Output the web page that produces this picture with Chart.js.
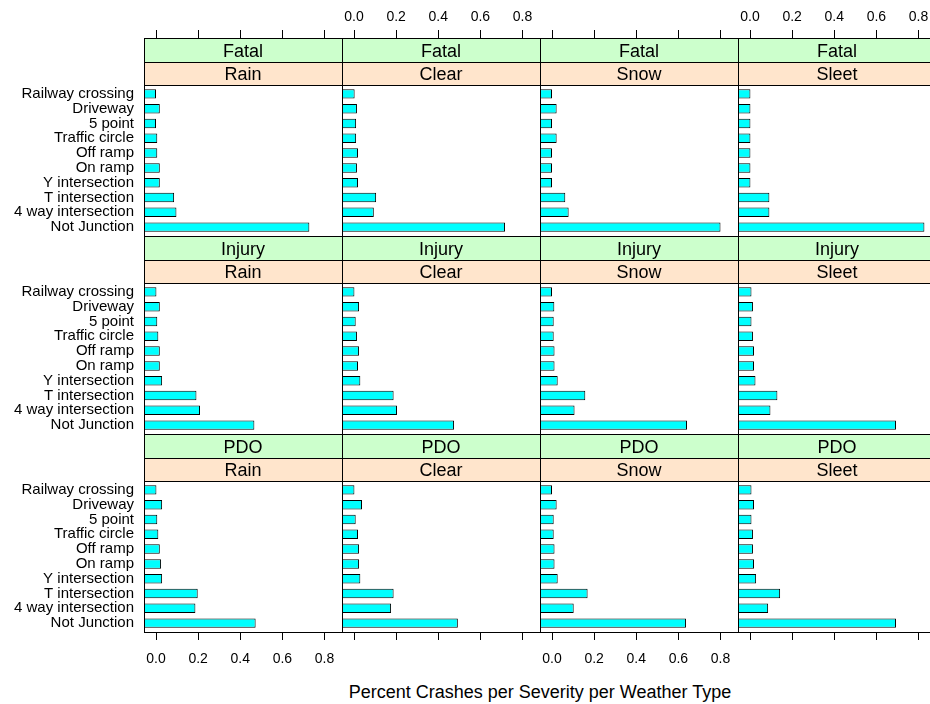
<!DOCTYPE html>
<html lang="en">
<head>
<meta charset="UTF-8" />
<title>Percent Crashes per Severity per Weather Type</title>
<style>
  html, body { margin: 0; padding: 0; background: #fff; overflow: hidden; }
  body { width: 930px; height: 704px; position: relative; font-family: "Liberation Sans", Arial, sans-serif; }
  canvas { position: absolute; }
  #xlab { position: absolute; left: 144px; width: 792px; top: 680px; height: 24px; line-height: 24px;
          text-align: center; font-size: 18px; color: #000; }
</style>
</head>
<body>
<div id="xlab">Percent Crashes per Severity per Weather Type</div>
<script src="https://cdn.jsdelivr.net/npm/chart.js@4.4.0/dist/chart.umd.min.js"></script>
<script>
// categories, top of panel to bottom
const junctions = ["Railway crossing", "Driveway", "5 point", "Traffic circle", "Off ramp",
  "On ramp", "Y intersection", "T intersection", "4 way intersection", "Not Junction"];
const weathers = ["Rain", "Clear", "Snow", "Sleet"];
const severities = ["Fatal", "Injury", "PDO"];
const xTicks = [0, 0.2, 0.4, 0.6, 0.8];

// share of crashes, same order as junctions
const fatalRain   = [0.000, 0.018, 0.000, 0.006, 0.006, 0.018, 0.018, 0.086, 0.097, 0.728];
const fatalClear  = [0.003, 0.014, 0.010, 0.010, 0.019, 0.014, 0.019, 0.105, 0.094, 0.717];
const fatalSnow   = [0.000, 0.022, 0.000, 0.022, 0.000, 0.000, 0.000, 0.063, 0.079, 0.800];
const fatalSleet  = [0.002, 0.002, 0.002, 0.002, 0.002, 0.002, 0.002, 0.092, 0.092, 0.828];
const injuryRain  = [0.002, 0.018, 0.006, 0.011, 0.018, 0.018, 0.029, 0.192, 0.209, 0.467];
const injuryClear = [0.002, 0.024, 0.008, 0.014, 0.024, 0.019, 0.030, 0.188, 0.204, 0.475];
const injurySnow  = [0.000, 0.011, 0.008, 0.008, 0.012, 0.012, 0.027, 0.158, 0.107, 0.641];
const injurySleet = [0.007, 0.014, 0.007, 0.014, 0.019, 0.019, 0.026, 0.130, 0.097, 0.693];
const pdoRain     = [0.002, 0.029, 0.006, 0.011, 0.018, 0.024, 0.029, 0.198, 0.187, 0.473];
const pdoClear    = [0.002, 0.038, 0.008, 0.019, 0.024, 0.024, 0.030, 0.188, 0.176, 0.493];
const pdoSnow     = [0.000, 0.022, 0.008, 0.008, 0.012, 0.012, 0.027, 0.169, 0.103, 0.636];
const pdoSleet    = [0.007, 0.019, 0.007, 0.014, 0.014, 0.019, 0.029, 0.143, 0.086, 0.693];

const values = [
  [fatalRain, fatalClear, fatalSnow, fatalSleet],
  [injuryRain, injuryClear, injurySnow, injurySleet],
  [pdoRain, pdoClear, pdoSnow, pdoSleet]
];

const FONT = "'Liberation Sans', Arial, sans-serif";
Chart.defaults.font.family = FONT;
Chart.defaults.color = "#000";

// panel geometry (px)
const xMin = -0.057, xMax = 0.883;
const panelW = 198, yLabW = 144;
const colLeft = [144, 342, 540, 738];
const rowTop = [0, 236, 434];
const rowH = [237, 199, 270];
const n = junctions.length;

// strip backgrounds (title = severity, subtitle = weather) and panel frame
const frame = {
  id: "frame",
  beforeDraw(chart) {
    const ctx = chart.ctx;
    const T = chart.titleBlock.constructor;
    ctx.save();
    ctx.strokeStyle = "#000";
    ctx.lineWidth = 1;
    chart.boxes.forEach(b => {
      if (!(b instanceof T)) return;
      ctx.fillStyle = b === chart.titleBlock ? "#CCFFCC" : "#FFE5CC";
      ctx.fillRect(b.left, b.top, b.width, b.height);
      ctx.strokeRect(b.left + 0.5, b.top + 0.5, b.width, b.height);
    });
    ctx.restore();
  },
  afterDraw(chart) {
    const a = chart.chartArea, ctx = chart.ctx;
    ctx.save();
    ctx.strokeStyle = "#000";
    ctx.lineWidth = 1;
    ctx.strokeRect(a.left + 0.5, a.top + 0.5, a.right - a.left, a.bottom - a.top);
    ctx.restore();
  }
};

// fixed axis sizes, no extra room for overhanging labels
function noPad(s) {
  s.paddingTop = 0;
  s.paddingBottom = 0;
  s.paddingLeft = 0;
  s.paddingRight = 0;
}

severities.forEach((sev, r) => {
  weathers.forEach((w, c) => {
    const cv = document.createElement("canvas");
    const left = c === 0 ? 0 : colLeft[c];
    const width = (c === 0 ? yLabW : 0) + panelW + 1;
    cv.width = width;
    cv.height = rowH[r];
    cv.style.left = left + "px";
    cv.style.top = rowTop[r] + "px";
    document.body.appendChild(cv);

    const showX = r !== 1;
    const showY = c === 0;
    const xPos = r === 0 ? "top" : "bottom";
    const xLabels = (r === 0 && c % 2 === 1) || (r === 2 && c % 2 === 0);

    new Chart(cv, {
      type: "bar",
      data: {
        datasets: [{
          data: values[r][c].map((v, i) => ({ x: v, y: n - i })),
          base: xMin,
          backgroundColor: "#00FFFF",
          borderColor: "#000",
          borderWidth: 1,
          borderSkipped: false,
          barPercentage: 0.64,
          categoryPercentage: 1
        }]
      },
      options: {
        indexAxis: "y",
        responsive: false,
        animation: false,
        events: [],
        layout: { padding: { left: 0, right: 1, top: 0, bottom: r === 2 ? 0 : 1 } },
        scales: {
          x: {
            type: "linear",
            display: showX,
            position: xPos,
            min: xMin,
            max: xMax,
            afterBuildTicks: s => { s.ticks = xTicks.map(v => ({ value: v })); },
            afterFit: s => { s.height = showX ? (r === 0 ? 38 : 72) : 0; noPad(s); },
            grid: { drawOnChartArea: false, drawTicks: true, tickLength: 8, color: "#000", lineWidth: 1 },
            border: { display: false },
            ticks: {
              display: xLabels,
              autoSkip: false,
              maxRotation: 0,
              padding: r === 0 ? 4 : 11,
              font: { size: 14, family: FONT },
              color: "#000",
              callback: v => Number(v).toFixed(1)
            }
          },
          y: {
            type: "linear",
            display: showY,
            position: "left",
            offset: false,
            min: 0.4,
            max: n + 0.6,
            afterBuildTicks: s => { s.ticks = junctions.map((_, i) => ({ value: n - i })); },
            afterFit: s => { s.width = showY ? yLabW : 0; noPad(s); },
            grid: { display: false, drawTicks: false, offset: false },
            border: { display: false },
            ticks: {
              autoSkip: false,
              padding: 10,
              font: { size: 15, family: FONT, lineHeight: 1 },
              color: "#000",
              callback: v => junctions[Math.round(n - v)]
            }
          }
        },
        plugins: {
          legend: { display: false },
          tooltip: { enabled: false },
          title: {
            display: true,
            text: sev,
            position: "top",
            fullSize: false,
            weight: -1,
            color: "#000",
            font: { size: 18, family: FONT, weight: "normal", lineHeight: "20px" },
            padding: { top: 4, bottom: 0 }
          },
          subtitle: {
            display: true,
            text: w,
            position: "top",
            fullSize: false,
            weight: -2,
            color: "#000",
            font: { size: 18, family: FONT, weight: "normal", lineHeight: "20px" },
            padding: { top: 3, bottom: 0 }
          }
        }
      },
      plugins: [frame]
    });
  });
});
</script>
</body>
</html>
